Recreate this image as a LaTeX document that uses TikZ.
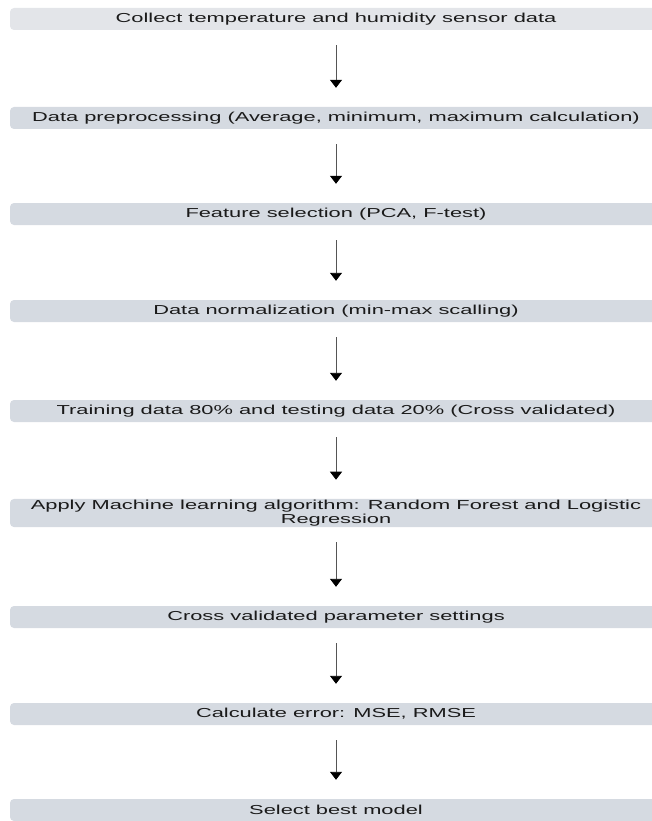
\documentclass[tikz,border=0pt]{standalone}
\usepackage{fontspec}
\usepackage{tikz}
\usetikzlibrary{arrows.meta}
\newfontfamily\stagefont[FakeStretch=1.68]{Liberation Sans}
\definecolor{boxgray}{HTML}{D5DAE1}
\definecolor{boxlight}{HTML}{E3E5E9}
\definecolor{ink}{HTML}{1A1A1A}
\definecolor{stem}{HTML}{555555}
\tikzset{
  stage/.style={rectangle, rounded corners=4pt, fill=boxgray, text=ink, minimum width=652pt, minimum height=22pt, inner ysep=1pt, align=center, font=\stagefont\fontsize{13}{14}\selectfont},
  flow/.style={draw=stem, line width=0.9pt, -{Triangle[width=12pt,length=8pt,color=black]}, shorten <=15pt, shorten >=19pt},
}

\begin{document}
\begin{tikzpicture}[x=1pt,y=-1pt]
  \useasboundingbox (0,0) rectangle (652,821);
  \clip (0,0) rectangle (652,821);
  % stages, top to bottom
  \node[stage,fill=boxlight] (collect) at (336,19) {Collect temperature and humidity sensor data};
  \node[stage] (prep) at (336,118) {Data preprocessing (Average, minimum, maximum calculation)};
  \node[stage] (feat) at (336,214) {Feature selection (PCA, F-test)};
  \node[stage] (norm) at (336,311) {Data normalization (min-max scalling)};
  \node[stage] (split) at (336,411) {Training data 80\% and testing data 20\% (Cross validated)};
  \node[stage] (algo) at (336,513) {Apply Machine learning algorithm: Random Forest and Logistic\\Regression};
  \node[stage] (param) at (336,617) {Cross validated parameter settings};
  \node[stage] (err) at (336,714) {Calculate error: MSE, RMSE};
  \node[stage] (best) at (336,810) {Select best model};
  % arrows
  \foreach \a/\b in {collect/prep, prep/feat, feat/norm, norm/split, split/algo, algo/param, param/err, err/best}
    \draw[flow] (\a) -- (\b);
\end{tikzpicture}
\end{document}
